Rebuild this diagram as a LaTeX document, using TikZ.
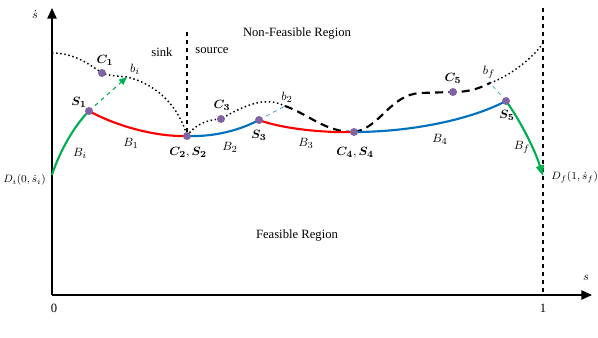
\documentclass[tikz,border=0pt]{standalone}
\usepackage{amsmath,bm}
\usepackage{fontspec}
\setmainfont{Liberation Serif}
\usepackage{tikz}
\usetikzlibrary{arrows.meta}
\definecolor{segred}{RGB}{255,0,0}
\definecolor{segblue}{RGB}{0,112,192}
\definecolor{seggreen}{RGB}{0,176,80}
\definecolor{ptpurple}{RGB}{128,100,162}
\tikzset{
  pt/.style={circle,fill=ptpurple,inner sep=0pt,minimum size=6pt},
  seg/.style={line width=1.6pt},
  bound/.style={line width=1.1pt,dotted},
  bdash/.style={line width=1.6pt,dash pattern=on 6pt off 4pt},
  axis/.style={line width=1.1pt,-{Triangle[length=8pt,width=7pt]}},
  lbl/.style={inner sep=1pt},
  endlbl/.style={inner sep=0pt,font=\fontsize{8.5pt}{10pt}\selectfont}
}
\begin{document}
\begin{tikzpicture}[x=0.75pt,y=-0.75pt,font=\fontsize{9.5pt}{11pt}\selectfont]
  \useasboundingbox (0,0) rectangle (598,338);
  % axes
  \coordinate (O) at (52,295);
  \coordinate (ytop) at (52,8);
  \coordinate (xend) at (592,295);
  \draw[axis] (O) -- (ytop);
  \draw[axis] (O) -- (xend);
  \node[lbl] (ylab) at (35,14) {$\dot{s}$};
  \node[lbl] (xlab) at (586,278) {$s$};
  \node[lbl] (zero) at (54,308) {0};
  \node[lbl] (one) at (543,308) {1};
  % end line and sink/source line
  \coordinate (endtop) at (543,8);
  \coordinate (endbot) at (543,295);
  \draw[thick,dashed] (endtop) -- (endbot);
  \coordinate (sstop) at (187,32);
  \coordinate (C2) at (187,136);
  \draw[thick,dashed] (sstop) -- (C2);
  % points
  \coordinate (Di) at (52,175);
  \coordinate (S1) at (89,111);
  \coordinate (C1) at (102,73);
  \coordinate (bi) at (127,77);
  \coordinate (C3) at (221,119);
  \coordinate (S3) at (259,120);
  \coordinate (b2) at (285,106);
  \coordinate (C4) at (354,132);
  \coordinate (C5) at (453,92);
  \coordinate (bf) at (490,83);
  \coordinate (S5) at (506,101);
  \coordinate (Df) at (543,176);
  \coordinate (bstart) at (52,53);
  \coordinate (bend) at (543,43);
  % boundary curves
  \draw[bound] (bstart) .. controls (75,53) and (90,65) .. (C1)
    .. controls (110,76) and (118,76) .. (bi)
    .. controls (160,85) and (180,110) .. (C2);
  \draw[bound] (C2) .. controls (195,125) and (205,120) .. (C3)
    .. controls (245,105) and (265,96) .. (b2);
  \draw[bdash] (b2) .. controls (310,115) and (325,132) .. (C4);
  \draw[bdash] (C4) .. controls (380,128) and (390,95) .. (420,93)
    -- (C5) .. controls (470,92) and (480,88) .. (bf);
  \draw[bound] (bf) .. controls (505,78) and (530,62) .. (bend);
  % switching segments
  \draw[seg,seggreen] (Di) .. controls (60,150) and (75,125) .. (S1);
  \draw[seg,segred] (S1) .. controls (120,128) and (160,137) .. (C2);
  \draw[seg,segblue] (C2) .. controls (215,137) and (240,130) .. (S3);
  \draw[seg,segred] (S3) .. controls (280,128) and (320,133) .. (C4);
  \draw[seg,segblue] (C4) .. controls (410,132) and (470,120) .. (S5);
  \draw[seg,seggreen,-{Triangle[length=8pt,width=6pt]}] (S5) .. controls (520,120) and (535,150) .. (Df);
  % tangent extensions
  \draw[thick,dashed,seggreen,-{Triangle[length=6pt,width=5pt]}] (S1) -- (bi);
  \draw[dashed,segblue] (S3) -- (b2);
  \draw[dashed,seggreen] (S5) -- (bf);
  % dots
  \foreach \p in {C1,S1,C2,C3,S3,C4,C5,S5}
    \node[pt] (dot\p) at (\p) {};
  % labels
  \node[lbl] (nfr) at (297,33) {Non-Feasible Region};
  \node[lbl] (fr) at (297,235) {Feasible Region};
  \node[lbl] (sink) at (162,52) {sink};
  \node[lbl] (source) at (212,51) {source};
  \node[endlbl,anchor=west] (labDi) at (3,180) {$D_i(0,\dot{s}_i)$};
  \node[endlbl,anchor=west] (labDf) at (551,177) {$D_f(1,\dot{s}_f)$};
  \node[lbl] (labC1) at (105,60) {$\bm{C_1}$};
  \node[lbl] (labbi) at (135,69) {$b_i$};
  \node[lbl] (labS1) at (79,102) {$\bm{S_1}$};
  \node[lbl] (labBi) at (80,153) {$B_i$};
  \node[lbl] (labB1) at (131,143) {$B_1$};
  \node[lbl] (labC2) at (188,153) {$\bm{C_2},\bm{S_2}$};
  \node[lbl] (labC3) at (222,105) {$\bm{C_3}$};
  \node[lbl] (labB2) at (230,147) {$B_2$};
  \node[lbl] (labS3) at (259,135) {$\bm{S_3}$};
  \node[lbl] (labb2) at (287,97) {$b_2$};
  \node[lbl] (labB3) at (306,143) {$B_3$};
  \node[lbl] (labC4) at (355,153) {$\bm{C_4},\bm{S_4}$};
  \node[lbl] (labB4) at (440,139) {$B_4$};
  \node[lbl] (labC5) at (453,78) {$\bm{C_5}$};
  \node[lbl] (labbf) at (489,72) {$b_f$};
  \node[lbl] (labS5) at (507,115) {$\bm{S_5}$};
  \node[lbl] (labBf) at (522,147) {$B_f$};
\end{tikzpicture}
\end{document}
